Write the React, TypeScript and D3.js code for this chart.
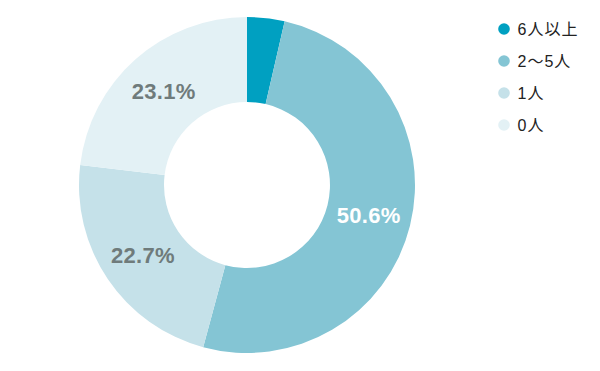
import React from "react";
import * as d3 from "d3";

const categories = ["6人以上", "2～5人", "1人", "0人"];
const values = [3.6, 50.6, 22.7, 23.1];
const colors = ["#00a0c1", "#84c5d4", "#c5e1e9", "#e3f1f5"];
const labelColors = ["#ffffff", "#ffffff", "#6f7b7b", "#6f7b7b"];
const showLabel = [false, true, true, true];

export default function App() {
  const width = 600, height = 371;
  const cx = 247, cy = 185, outerR = 168, innerR = 83;
  const pie = d3.pie<number>().sort(null).value((d) => d);
  const arcs = pie(values);
  const arc = d3.arc<d3.PieArcDatum<number>>().innerRadius(innerR).outerRadius(outerR);
  const font = "Liberation Sans, Arial, 'Noto Sans CJK JP', sans-serif";
  return (
    <svg width={width} height={height} style={{ position: "absolute", left: 0, top: 0 }}>
      <rect width={width} height={height} fill="#fff" />
      <g transform={`translate(${cx},${cy})`}>
        {arcs.map((a, i) => (
          <path key={i} d={arc(a) || ""} fill={colors[i]} />
        ))}
        {arcs.map((a, i) => {
          if (!showLabel[i]) return null;
          const [x, y] = arc.centroid(a);
          return (
            <text key={"l" + i} x={x} y={y} dy="0.36em" textAnchor="middle" fontFamily={font}
              fontWeight="bold" fontSize={22} letterSpacing={0.3} fill={labelColors[i]}>
              {values[i].toFixed(1)}%
            </text>
          );
        })}
      </g>
      <g fontFamily={font} fontSize={16} fill="#222">
        {categories.map((c, i) => (
          <g key={c} transform={`translate(504,${29 + i * 32})`}>
            <circle r={5.8} fill={colors[i]} />
            <text x={13.5} dy="0.36em" letterSpacing={1}>{c}</text>
          </g>
        ))}
      </g>
    </svg>
  );
}
